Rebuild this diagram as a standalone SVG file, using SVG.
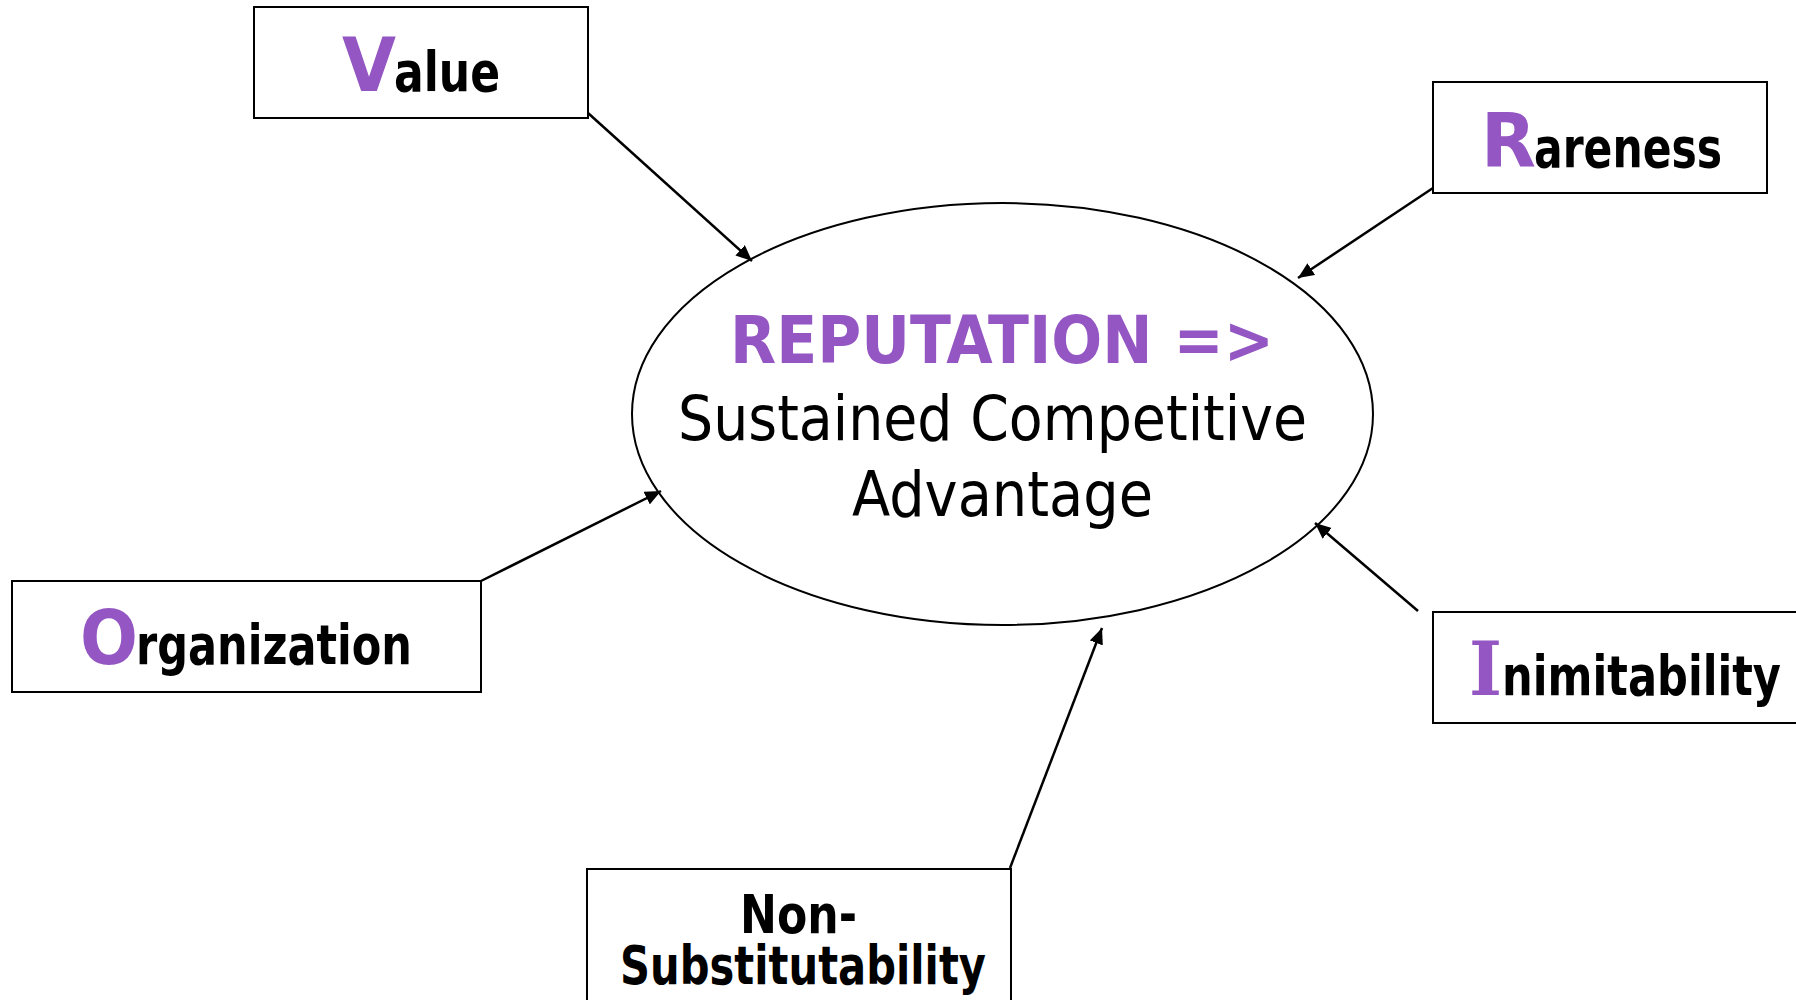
<svg xmlns="http://www.w3.org/2000/svg" width="1796" height="1000" viewBox="0 0 1796 1000">
<style>
.box{fill:#fff;stroke:#000;stroke-width:2}
.t{font-family:"DejaVu Sans","Liberation Sans",sans-serif;font-weight:bold;fill:#000}
.init{font-family:"DejaVu Sans","Liberation Sans",sans-serif;font-weight:bold;fill:#9456C2;font-size:75px}
.serif{font-family:"DejaVu Serif","Liberation Serif",serif}
.lbl{font-size:55px}
.conn{stroke:#000;stroke-width:2.5;fill:none;marker-end:url(#ah)}
.center{font-family:"DejaVu Sans","Liberation Sans",sans-serif}
</style>
<defs>
<marker id="ah" markerUnits="userSpaceOnUse" markerWidth="18" markerHeight="14" refX="16" refY="7" orient="auto">
<path d="M0,0 L16,7 L0,14 Z" fill="#000"/>
</marker>
</defs>
<rect width="1796" height="1000" fill="#fff"/>
<g id="connectors">
<line class="conn" x1="588" y1="113" x2="752" y2="261"/>
<line class="conn" x1="1433" y1="188" x2="1298" y2="278"/>
<line class="conn" x1="1418" y1="611" x2="1315" y2="523"/>
<line class="conn" x1="481" y1="581" x2="661" y2="491"/>
<line class="conn" x1="1010" y1="868" x2="1102" y2="628"/>
</g>
<g id="center">
<ellipse cx="1002.5" cy="414" rx="370.5" ry="211" fill="none" stroke="#000" stroke-width="2"/>
<text class="center" x="730" y="363" font-size="65" font-weight="bold" fill="#9456C2" textLength="544" lengthAdjust="spacingAndGlyphs">REPUTATION =&gt;</text>
<text class="center" x="678" y="440" font-size="63" fill="#000" textLength="629" lengthAdjust="spacingAndGlyphs">Sustained Competitive</text>
<text class="center" x="852" y="516" font-size="63" fill="#000" textLength="301" lengthAdjust="spacingAndGlyphs">Advantage</text>
</g>
<g id="value">
<rect class="box" x="254" y="7" width="334" height="111"/>
<text class="init" x="342" y="91" textLength="54" lengthAdjust="spacingAndGlyphs">V</text>
<text class="t lbl" x="394" y="91" textLength="106" lengthAdjust="spacingAndGlyphs">alue</text>
</g>
<g id="rareness">
<rect class="box" x="1433" y="82" width="334" height="111"/>
<text class="init" x="1481" y="167" textLength="55" lengthAdjust="spacingAndGlyphs">R</text>
<text class="t lbl" x="1534" y="167" textLength="188" lengthAdjust="spacingAndGlyphs">areness</text>
</g>
<g id="organization">
<rect class="box" x="12" y="581" width="469" height="111"/>
<text class="init" x="80" y="664" textLength="58" lengthAdjust="spacingAndGlyphs">O</text>
<text class="t lbl" x="136" y="664" textLength="276" lengthAdjust="spacingAndGlyphs">rganization</text>
</g>
<g id="inimitability">
<rect class="box" x="1433" y="612" width="380" height="111"/>
<text class="init serif" x="1469" y="695" font-size="72" textLength="33" lengthAdjust="spacingAndGlyphs">I</text>
<text class="t lbl" x="1502" y="695" textLength="279" lengthAdjust="spacingAndGlyphs">nimitability</text>
</g>
<g id="non-substitutability">
<rect class="box" x="587" y="869" width="424" height="150"/>
<text class="t" x="740" y="933" font-size="54" textLength="117" lengthAdjust="spacingAndGlyphs">Non-</text>
<text class="t" x="620" y="984" font-size="54" textLength="366" lengthAdjust="spacingAndGlyphs">Substitutability</text>
</g>
</svg>
